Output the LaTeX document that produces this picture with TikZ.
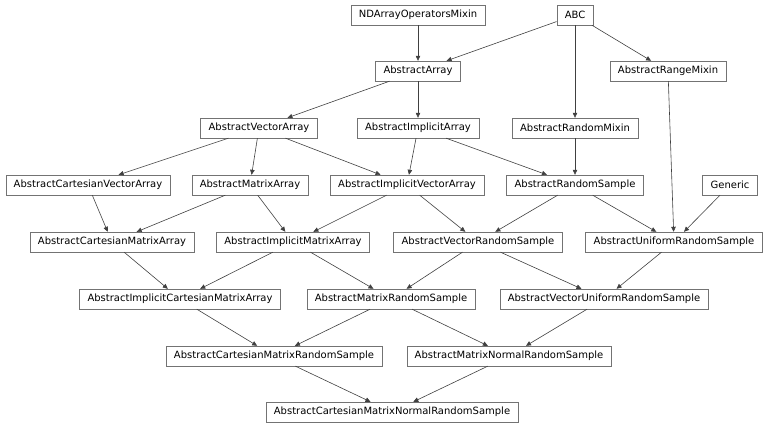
\documentclass[tikz,border=0pt]{standalone}
\usepackage{fontspec}
\setmainfont{DejaVu Sans}
\usetikzlibrary{arrows.meta}

\begin{document}
\begin{tikzpicture}[x=1pt,y=-1pt,
cls/.style={draw=black!55,fill=white,font=\fontsize{10}{11}\selectfont,inner xsep=8pt,inner ysep=0pt,minimum height=20pt},
arr/.style={-{Triangle[length=5pt,width=4.5pt]},draw=black!75,line width=.6pt}]
\useasboundingbox (0,0) rectangle (768,428);
% base classes
\node[cls](ndmix) at (418,15){NDArrayOperatorsMixin};
\node[cls](abc) at (575,15){ABC};
\node[cls](absarr) at (418,71){AbstractArray};
\node[cls](rangemix) at (668,71){AbstractRangeMixin};
\node[cls](vecarr) at (259,128){AbstractVectorArray};
\node[cls](implarr) at (418,128){AbstractImplicitArray};
\node[cls](randmix) at (575,128){AbstractRandomMixin};
% fourth row
\node[cls](cartvec) at (88,185){AbstractCartesianVectorArray};
\node[cls](matarr) at (250,185){AbstractMatrixArray};
\node[cls](implvec) at (407,185){AbstractImplicitVectorArray};
\node[cls](randsmp) at (575,185){AbstractRandomSample};
\node[cls](generic) at (730,185){Generic};
% fifth row
\node[cls](cartmat) at (112,242){AbstractCartesianMatrixArray};
\node[cls](implmat) at (293,242){AbstractImplicitMatrixArray};
\node[cls](vecrand) at (478,242){AbstractVectorRandomSample};
\node[cls](unifrand) at (674,242){AbstractUniformRandomSample};
% lower rows
\node[cls](implcart) at (180,299){AbstractImplicitCartesianMatrixArray};
\node[cls](matrand) at (391,299){AbstractMatrixRandomSample};
\node[cls](vecunif) at (604,299){AbstractVectorUniformRandomSample};
\node[cls](cartrand) at (274,356){AbstractCartesianMatrixRandomSample};
\node[cls](matnorm) at (509,356){AbstractMatrixNormalRandomSample};
\node[cls](cartnorm) at (392,412){AbstractCartesianMatrixNormalRandomSample};
% inheritance
\draw[arr](ndmix)--(absarr);\draw[arr](abc)--(absarr);
\draw[arr](abc)--(randmix);\draw[arr](abc)--(rangemix);
\draw[arr](absarr)--(vecarr);\draw[arr](absarr)--(implarr);
\draw[arr](vecarr)--(cartvec);\draw[arr](vecarr)--(matarr);\draw[arr](vecarr)--(implvec);
\draw[arr](implarr)--(implvec);\draw[arr](implarr)--(randsmp);\draw[arr](randmix)--(randsmp);
\draw[arr](rangemix)--(unifrand);\draw[arr](generic)--(unifrand);
\draw[arr](cartvec)--(cartmat);\draw[arr](matarr)--(cartmat);\draw[arr](matarr)--(implmat);
\draw[arr](implvec)--(implmat);\draw[arr](implvec)--(vecrand);
\draw[arr](randsmp)--(vecrand);\draw[arr](randsmp)--(unifrand);
\draw[arr](cartmat)--(implcart);\draw[arr](implmat)--(implcart);\draw[arr](implmat)--(matrand);
\draw[arr](vecrand)--(matrand);\draw[arr](vecrand)--(vecunif);\draw[arr](unifrand)--(vecunif);
\draw[arr](implcart)--(cartrand);\draw[arr](matrand)--(cartrand);
\draw[arr](matrand)--(matnorm);\draw[arr](vecunif)--(matnorm);
\draw[arr](cartrand)--(cartnorm);\draw[arr](matnorm)--(cartnorm);
\end{tikzpicture}
\end{document}
